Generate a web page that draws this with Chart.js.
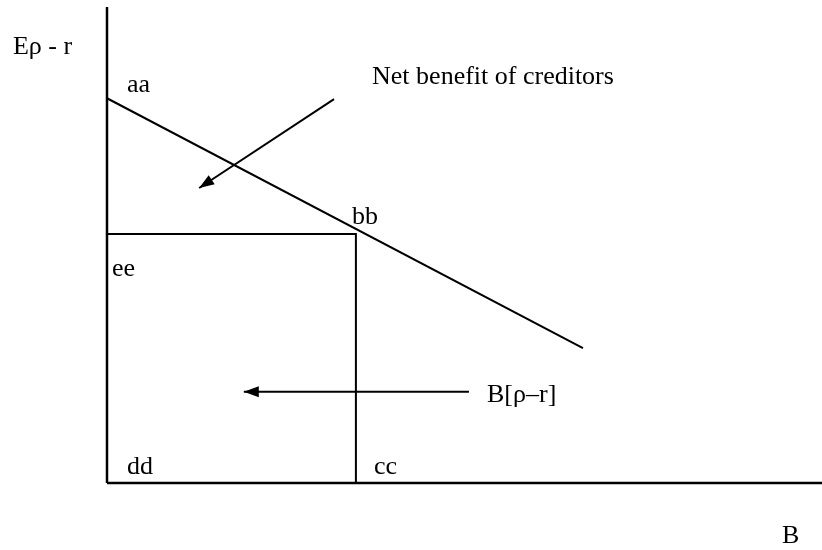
<!DOCTYPE html>
<html>
<head>
<meta charset="utf-8">
<script src="https://cdn.jsdelivr.net/npm/chart.js@4.4.1/dist/chart.umd.min.js"></script>
<style>
  html, body { margin: 0; padding: 0; background: #fff; }
  canvas { display: block; }
</style>
</head>
<body>
<canvas id="diagram" width="822" height="550"></canvas>
<script>
// Diagram data (units: origin at the axis corner)
const yAxisLine = [{ x: 0, y: 0 }, { x: 0, y: 100.2 }];
const xAxisLine = [{ x: 0, y: 0 }, { x: 151, y: 0 }];
const benefitLine = [{ x: 0, y: 81 }, { x: 100.2, y: 28.4 }];
const boxLine = [{ x: 0, y: 52.4 }, { x: 52.4, y: 52.4 }, { x: 52.4, y: 0 }];
const creditorArrow = [{ x: 47.8, y: 80.8 }, { x: 19.4, y: 62.1 }];
const areaArrow = [{ x: 76.2, y: 19.2 }, { x: 28.8, y: 19.2 }];

// Text labels (left edge, baseline)
const labelTexts = ['Eρ - r', 'aa', 'Net benefit of creditors', 'bb', 'ee', 'dd', 'cc', 'B[ρ–r]', 'B'];
const labelX = [-19.8, 4.2, 55.8, 51.6, 1.05, 4.2, 56.2, 80, 142.1];
const labelY = [90.3, 82.3, 84, 54.5, 43.6, 1.9, 1.9, 17.1, -12.6];

const FONT = '26px "Liberation Serif", "Times New Roman", serif';

function lineSet(data, width, arrow) {
    return {
        data: data,
        showLine: true,
        borderColor: '#000',
        borderWidth: width,
        pointRadius: 0,
        pointHoverRadius: 0,
        tension: 0,
        clip: false,
        arrow: !!arrow
    };
}

// Draws arrowheads and text labels through the chart scales
const diagramPlugin = {
    id: 'diagram',
    afterDatasetsDraw(chart) {
        const ctx = chart.ctx;
        const xs = chart.scales.x;
        const ys = chart.scales.y;
        ctx.save();
        ctx.fillStyle = '#000';

        chart.data.datasets.forEach((ds, i) => {
            if (!ds.arrow) return;
            const pts = chart.getDatasetMeta(i).data;
            const a = pts[pts.length - 2];
            const b = pts[pts.length - 1];
            const ang = Math.atan2(b.y - a.y, b.x - a.x);
            const len = 15, half = 5.5;
            ctx.beginPath();
            ctx.moveTo(b.x, b.y);
            ctx.lineTo(b.x - len * Math.cos(ang) + half * Math.sin(ang),
                       b.y - len * Math.sin(ang) - half * Math.cos(ang));
            ctx.lineTo(b.x - len * Math.cos(ang) - half * Math.sin(ang),
                       b.y - len * Math.sin(ang) + half * Math.cos(ang));
            ctx.closePath();
            ctx.fill();
        });

        ctx.font = FONT;
        ctx.textAlign = 'left';
        ctx.textBaseline = 'alphabetic';
        labelTexts.forEach((t, i) => {
            ctx.fillText(t, xs.getPixelForValue(labelX[i]), ys.getPixelForValue(labelY[i]));
        });
        ctx.restore();
    }
};

new Chart(document.getElementById('diagram'), {
    type: 'scatter',
    data: {
        datasets: [
            lineSet(yAxisLine, 2.5),
            lineSet(xAxisLine, 2.5),
            lineSet(benefitLine, 2),
            lineSet(boxLine, 2),
            lineSet(creditorArrow, 2, true),
            lineSet(areaArrow, 2, true)
        ]
    },
    options: {
        responsive: false,
        animation: false,
        events: [],
        layout: { padding: 0 },
        plugins: {
            legend: { display: false },
            tooltip: { enabled: false }
        },
        scales: {
            x: { type: 'linear', display: false, min: -22.526, max: 150.526 },
            y: { type: 'linear', display: false, min: -14.105, max: 101.684 }
        }
    },
    plugins: [diagramPlugin]
});
</script>
</body>
</html>
